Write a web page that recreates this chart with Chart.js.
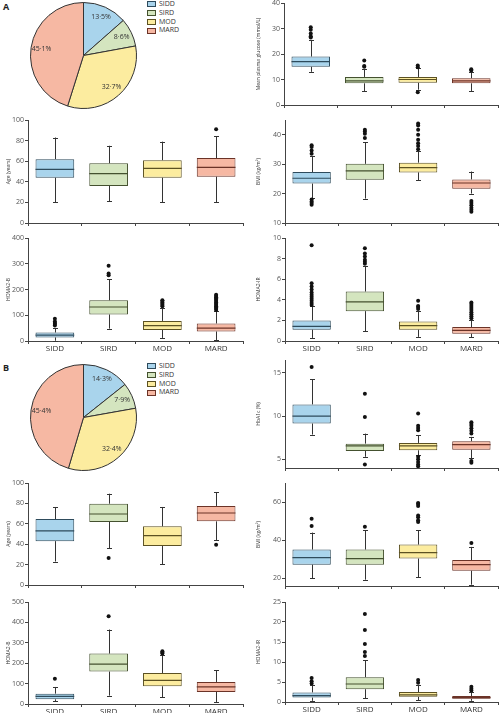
<!DOCTYPE html>
<html>
<head>
<meta charset="utf-8">
<script src="https://cdn.jsdelivr.net/npm/chart.js@4.4.1/dist/chart.umd.min.js"></script>
<style>
    html, body { margin: 0; padding: 0; background: #fff; overflow: hidden; }
    body { width: 500px; height: 713px; position: relative; font-family: "Open Sans", sans-serif; }
    canvas { position: absolute; }
    .panel-letter { position: absolute; left: 3px; font-weight: bold; font-size: 9px; color: #222; }
    .legend { position: absolute; left: 147px; font-size: 7px; color: #333; line-height: 8.8px; }
    .legend div { display: flex; align-items: center; height: 8.8px; }
    .legend span.box { display: inline-block; width: 7px; height: 4px; border: 1px solid #333; margin-right: 3px; }
</style>
</head>
<body>

<div class="panel-letter" style="top:0px">A</div>
<div class="panel-letter" style="top:361px">B</div>
<div class="legend" id="legendA" style="top:0px"></div>
<div class="legend" id="legendB" style="top:362px"></div>

<script>
// Subgroups and colours
const groups = ['SIDD', 'SIRD', 'MOD', 'MARD'];
const fills = ['#a9d4ec', '#d4e5bf', '#fcec9f', '#f6b8a3'];
const edges = ['#2e4b5c', '#44512f', '#5c5122', '#6b3327'];

// Pie shares (%)
const shareA = [13.5, 8.6, 32.7, 45.1];
const shareB = [14.3, 7.9, 32.4, 45.4];

// Box stats per group: [min, q1, median, q3, max]
// Panel A
const glucoseA = [[13, 15, 17, 19, 25.5], [5.5, 8.5, 9.5, 11, 14], [6, 8.7, 10, 11, 14.5], [5.5, 8.5, 9.5, 10.5, 13]];
const glucoseAOut = [[26.5, 27, 28, 29.5, 30.5], [15, 15.3, 17.5], [5, 14.8, 15.5], [13.5, 14]];
const ageA = [[20, 44, 52, 62, 83], [21, 36, 48, 58, 75], [20, 44, 53, 61, 79], [20, 45, 54, 63, 84]];
const ageAOut = [[], [], [], [91]];
const bmiA = [[18.5, 23.4, 25.2, 27.3, 32.6], [18.3, 24.7, 27.7, 30.1, 37.5], [24.6, 27.2, 28.8, 30.5, 34.6], [20, 21.6, 23.6, 24.8, 27.5]];
const bmiAOut = [[33.5, 34.6, 35.8, 36.4, 16.2, 16.8, 17.3, 18], [38.9, 40.3, 41.1, 41.7], [35.1, 36.2, 37.1, 38.3, 40, 41.7, 43.1, 43.8], [13.8, 14.5, 15.2, 16, 16.8, 17.5]];
const homaBA = [[1, 14, 23, 33, 50], [48, 103, 132, 158, 240], [12, 43, 60, 78, 130], [4, 37, 50, 68, 115]];
const homaBAOut = [[60, 66, 70, 76, 86], [255, 262, 292], [135, 140, 145, 150, 155, 158], [120, 125, 130, 135, 140, 145, 150, 155, 160, 165, 170, 175, 180]];
const homaIRA = [[0.3, 1.1, 1.42, 2.0, 3.4], [0.97, 2.9, 3.8, 4.8, 7.25], [0.4, 1.1, 1.5, 1.9, 2.9], [0.35, 0.71, 1.04, 1.36, 2.07]];
const homaIRAOut = [[3.5, 3.7, 3.9, 4.1, 4.3, 4.5, 4.7, 5.0, 5.3, 5.6, 9.3], [7.5, 7.7, 7.9, 8.2, 8.5, 9.0], [3.1, 3.3, 3.4, 3.9], [2.2, 2.4, 2.6, 2.8, 3.0, 3.2, 3.4, 3.6, 3.75]];

// Panel B
const hba1cB = [[7.87, 9.15, 10.0, 11.36, 14.3], [5.3, 5.97, 6.55, 6.82, 7.98], [5.5, 6.05, 6.55, 6.9, 7.8], [5.1, 6.12, 6.7, 7.1, 7.6]];
const hba1cBOut = [[15.7], [12.6, 9.9, 4.4], [10.3, 8.9, 8.64, 8.37, 5.3, 5.0, 4.7, 4.4, 4.2], [9.3, 9.1, 8.9, 8.6, 8.3, 8.0, 4.8, 4.6]];
const ageB = [[23, 43, 53, 64.7, 76.5], [36, 61.8, 69.6, 79.7, 89.5], [20.6, 38.2, 48.4, 57.5, 76.5], [44, 62.4, 70.6, 77.5, 90.8]];
const ageBOut = [[], [26.5], [], [39.5]];
const bmiB = [[20.2, 27.2, 30.9, 35.1, 44], [19.3, 27.2, 30.4, 35.1, 45.2], [20.7, 30.4, 33.5, 37.7, 45.2], [16.7, 24, 27.2, 29.6, 36.5]];
const bmiBOut = [[47.4, 51.3], [47], [49.5, 50.5, 52, 53, 58, 59, 59.5], [38.6]];
const homaBB = [[13, 23, 37.6, 50.7, 83.5], [41, 159, 195, 247, 365], [34, 87, 116, 152, 239], [10, 59, 83.5, 108, 165]];
const homaBBOut = [[124], [430], [247, 252, 258], []];
const homaIRB = [[0.3, 1.1, 1.6, 2.4, 4.2], [1, 3.2, 4.5, 6.2, 10.5], [0.4, 1.3, 1.8, 2.5, 4.3], [0.3, 0.8, 1.1, 1.5, 2.6]];
const homaIRBOut = [[4.6, 5.2, 6], [11.5, 12.5, 14.5, 18, 22], [4.8, 5.5], [2.9, 3.3, 3.8]];

// Tick labels
const ticksGlucose = [0, 10, 20, 30, 40];
const ticksAge = [0, 20, 40, 60, 80, 100];
const ticksBmiA = [10, 20, 30, 40];
const ticksHomaBA = [0, 100, 200, 300, 400];
const ticksHomaIRA = [0, 2, 4, 6, 8, 10];
const ticksHba1c = [5, 10, 15];
const ticksBmiB = [20, 40, 60];
const ticksHomaBB = [0, 100, 200, 300, 400, 500];
const ticksHomaIRB = [0, 5, 10, 15, 20, 25];

const FONT = '"Open Sans", sans-serif';

// Whiskers below the boxes, medians on top
function makeBoxParts(stats) {
    return {
        id: 'boxParts',
        beforeDatasetsDraw(chart) {
            const { ctx, scales: { x, y } } = chart;
            ctx.save();
            ctx.strokeStyle = '#333';
            ctx.lineWidth = 1;
            stats.forEach((s, i) => {
                const cx = Math.round(x.getPixelForValue(i)) + 0.5;
                const top = y.getPixelForValue(s[4]);
                const bot = y.getPixelForValue(s[0]);
                ctx.beginPath();
                ctx.moveTo(cx, top);
                ctx.lineTo(cx, y.getPixelForValue(s[3]));
                ctx.moveTo(cx, bot);
                ctx.lineTo(cx, y.getPixelForValue(s[1]));
                ctx.moveTo(cx - 2.5, Math.round(top) + 0.5);
                ctx.lineTo(cx + 2.5, Math.round(top) + 0.5);
                ctx.moveTo(cx - 2.5, Math.round(bot) + 0.5);
                ctx.lineTo(cx + 2.5, Math.round(bot) + 0.5);
                ctx.stroke();
            });
            ctx.restore();
        },
        afterDatasetsDraw(chart) {
            const { ctx, scales: { x, y } } = chart;
            const bar = chart.getDatasetMeta(1).data;
            ctx.save();
            ctx.lineWidth = 1.2;
            stats.forEach((s, i) => {
                const half = bar[i].width / 2;
                const cx = x.getPixelForValue(i);
                const my = y.getPixelForValue(s[2]);
                ctx.strokeStyle = edges[i];
                ctx.beginPath();
                ctx.moveTo(cx - half, my);
                ctx.lineTo(cx + half, my);
                ctx.stroke();
            });
            ctx.restore();
        }
    };
}

// Build one box plot chart on an absolutely placed canvas
function boxChart(cfg) {
    const colLeft = cfg.l < 250 ? 0 : 250;
    const yW = cfg.l - colLeft;
    const xH = cfg.labels ? 16 : 6;
    const canvas = document.createElement('canvas');
    canvas.width = cfg.r - colLeft + 4;
    canvas.height = (cfg.b - cfg.t) + 6 + xH;
    canvas.style.left = colLeft + 'px';
    canvas.style.top = (cfg.t - 6) + 'px';
    document.body.appendChild(canvas);

    const points = [];
    cfg.out.forEach((vals, i) => vals.forEach(v => points.push({ x: groups[i], y: v })));

    return new Chart(canvas.getContext('2d'), {
        type: 'bar',
        data: {
            labels: groups,
            datasets: [{
                type: 'line',
                data: points,
                showLine: false,
                pointRadius: 2,
                pointBackgroundColor: '#111',
                pointBorderWidth: 0,
                order: 0
            }, {
                data: cfg.stats.map(s => [s[1], s[3]]),
                backgroundColor: fills,
                borderColor: edges,
                borderWidth: 1,
                borderSkipped: false,
                barPercentage: 0.72,
                categoryPercentage: 1,
                order: 1
            }]
        },
        options: {
            responsive: false,
            animation: false,
            events: [],
            layout: { padding: { left: 0, top: 6, right: 4, bottom: 0 } },
            plugins: { legend: { display: false }, tooltip: { enabled: false } },
            scales: {
                x: {
                    type: 'category',
                    offset: true,
                    grid: { drawOnChartArea: false, offset: true, tickLength: 3, color: '#444' },
                    border: { color: '#444', width: 1 },
                    ticks: {
                        display: cfg.labels,
                        font: { size: 8, family: FONT },
                        color: '#333',
                        padding: 0,
                        maxRotation: 0,
                        autoSkip: false
                    },
                    afterFit: s => { s.height = xH; }
                },
                y: {
                    type: 'linear',
                    min: cfg.min,
                    max: cfg.max,
                    afterBuildTicks: s => { s.ticks = cfg.ticks.map(v => ({ value: v })); },
                    grid: { drawOnChartArea: false, tickLength: 3, color: '#444' },
                    border: { color: '#444', width: 1 },
                    ticks: { font: { size: 7, family: FONT }, color: '#555', padding: 1 },
                    title: {
                        display: true,
                        text: cfg.title,
                        font: { size: 5, family: FONT },
                        color: '#333',
                        padding: { top: 6, bottom: 0 }
                    },
                    afterFit: s => { s.width = yW; }
                }
            }
        },
        plugins: [makeBoxParts(cfg.stats)]
    });
}

// Percentages written inside the slices
const pieLabels = {
    id: 'pieLabels',
    afterDatasetsDraw(chart) {
        const ctx = chart.ctx;
        const values = chart.data.datasets[0].data;
        ctx.save();
        ctx.font = '7px ' + FONT;
        ctx.fillStyle = '#333';
        ctx.textAlign = 'center';
        ctx.textBaseline = 'middle';
        chart.getDatasetMeta(0).data.forEach((arc, i) => {
            const p = arc.getProps(['x', 'y', 'startAngle', 'endAngle', 'outerRadius'], true);
            const mid = (p.startAngle + p.endAngle) / 2;
            const r = p.outerRadius * 0.8;
            const label = values[i].toFixed(1).replace('.', '·') + '%';
            ctx.fillText(label, p.x + Math.cos(mid) * r, p.y + Math.sin(mid) * r);
        });
        ctx.restore();
    }
};

function pieChart(share, left, top) {
    const canvas = document.createElement('canvas');
    canvas.width = 107;
    canvas.height = 107;
    canvas.style.left = left + 'px';
    canvas.style.top = top + 'px';
    document.body.appendChild(canvas);
    return new Chart(canvas.getContext('2d'), {
        type: 'pie',
        data: {
            labels: groups,
            datasets: [{ data: share, backgroundColor: fills, borderColor: '#333', borderWidth: 1 }]
        },
        options: {
            responsive: false,
            animation: false,
            events: [],
            layout: { padding: 0 },
            plugins: { legend: { display: false }, tooltip: { enabled: false } }
        },
        plugins: [pieLabels]
    });
}

function fillLegend(id) {
    const el = document.getElementById(id);
    el.innerHTML = groups.map((g, i) =>
        `<div><span class="box" style="background:${fills[i]};border-color:${edges[i]}"></span>${g}</div>`
    ).join('');
}

// Panel A
pieChart(shareA, 30, 2);
fillLegend('legendA');
boxChart({ l: 284, t: 3, r: 498, b: 105, min: 0, max: 40, ticks: ticksGlucose, stats: glucoseA, out: glucoseAOut, title: 'Mean plasma glucose (mmol/L)', labels: false });
boxChart({ l: 28, t: 120, r: 243, b: 223, min: 0, max: 100, ticks: ticksAge, stats: ageA, out: ageAOut, title: 'Age (years)', labels: false });
boxChart({ l: 285, t: 120, r: 498, b: 223, min: 10, max: 45, ticks: ticksBmiA, stats: bmiA, out: bmiAOut, title: 'BMI (kg/m²)', labels: false });
boxChart({ l: 28, t: 238, r: 243, b: 341, min: 0, max: 400, ticks: ticksHomaBA, stats: homaBA, out: homaBAOut, title: 'HOMA2-B', labels: true });
boxChart({ l: 285, t: 238, r: 498, b: 341, min: 0, max: 10, ticks: ticksHomaIRA, stats: homaIRA, out: homaIRAOut, title: 'HOMA2-IR', labels: true });

// Panel B
pieChart(shareB, 30, 364);
fillLegend('legendB');
boxChart({ l: 285, t: 360, r: 498, b: 468, min: 4, max: 16.5, ticks: ticksHba1c, stats: hba1cB, out: hba1cBOut, title: 'HbA1c (%)', labels: false });
boxChart({ l: 28, t: 483, r: 243, b: 585, min: 0, max: 100, ticks: ticksAge, stats: ageB, out: ageBOut, title: 'Age (years)', labels: false });
boxChart({ l: 285, t: 483, r: 498, b: 586, min: 16, max: 70, ticks: ticksBmiB, stats: bmiB, out: bmiBOut, title: 'BMI (kg/m²)', labels: false });
boxChart({ l: 28, t: 602, r: 243, b: 704, min: 0, max: 500, ticks: ticksHomaBB, stats: homaBB, out: homaBBOut, title: 'HOMA2-B', labels: true });
boxChart({ l: 285, t: 602, r: 498, b: 702, min: 0, max: 25, ticks: ticksHomaIRB, stats: homaIRB, out: homaIRBOut, title: 'HOMA2-IR', labels: true });
</script>
</body>
</html>
